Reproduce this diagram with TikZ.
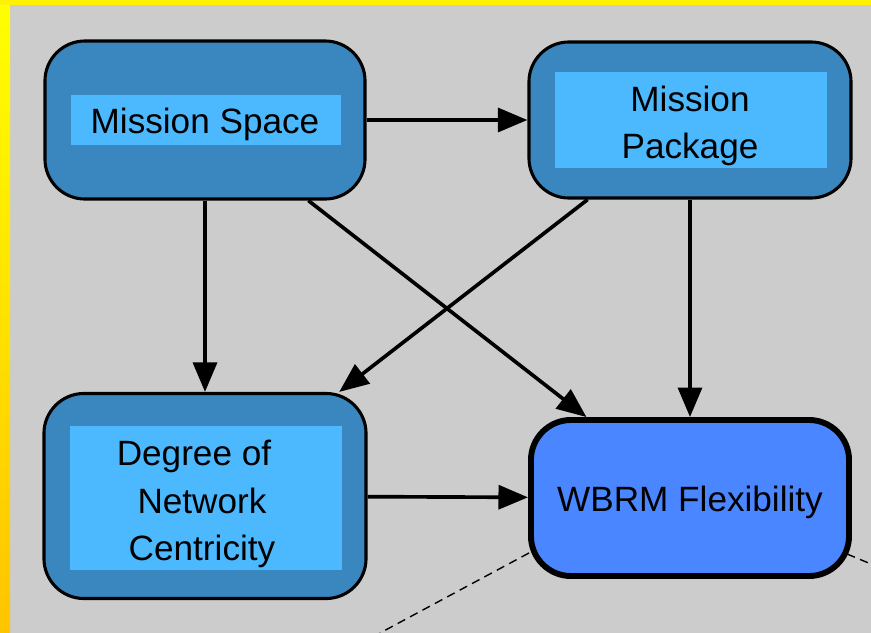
\documentclass[tikz,border=0pt]{standalone}
\usepackage{fontspec}
\setmainfont{Liberation Sans}
\usetikzlibrary{arrows.meta,calc}
\definecolor{bggray}{RGB}{204,204,204}
\definecolor{boxblue}{RGB}{58,135,192}
\definecolor{labelblue}{RGB}{76,185,255}
\definecolor{goalblue}{RGB}{74,134,255}
\definecolor{frameorange}{RGB}{255,196,0}

\begin{document}
\begin{tikzpicture}[x=0.025cm, y=-0.025cm,
  factor/.style={draw, line width=2.2pt, fill=boxblue, rounded corners=1cm, inner sep=0pt},
  namebox/.style={fill=labelblue, inner sep=0pt},
  nametext/.style={inner sep=0pt, align=center, font=\fontsize{25}{33.5}\selectfont},
  arr/.style={line width=2.6pt, -{Triangle[length=21pt, width=17pt]}},
  link/.style={line width=1pt, dash pattern=on 6pt off 4pt}]
  \useasboundingbox (0,0) rectangle (871,633);
  \fill[bggray] (0,0) rectangle (871,633);
  \shade[top color=yellow, bottom color=frameorange] (0,0) rectangle (10,633);
  \fill[yellow] (0,0) rectangle (871,5);
  % factor boxes
  \node[factor, minimum width=8cm, minimum height=3.95cm] (space) at (205,120) {};
  \node[namebox, minimum width=6.75cm, minimum height=1.225cm] (spacebox) at (206,120) {};
  \node[nametext] (spacetxt) at (205,124) {Mission Space};
  \node[factor, minimum width=8.05cm, minimum height=3.9cm] (package) at (690,120) {};
  \node[namebox, minimum width=6.775cm, minimum height=2.375cm] (packagebox) at (691,120) {};
  \node[nametext] (packagetxt) at (690,126) {Mission\\Package};
  \node[factor, minimum width=8.05cm, minimum height=5.125cm] (centric) at (205,496) {};
  \node[namebox, minimum width=6.775cm, minimum height=3.575cm] (centricbox) at (206,498) {};
  \node[nametext] (centrictxt) at (202,504) {Degree of\hspace*{0.4cm}\\Network\hspace*{0.15cm}\\Centricity};
  \node[factor, fill=goalblue, line width=4.2pt, minimum width=7.95cm, minimum height=3.9cm] (wbrm) at (690,498) {};
  \node[nametext] (wbrmtxt) at (690,502) {WBRM Flexibility};
  % influences
  \draw[arr] (space) -- (package);
  \draw[arr] (space) -- (centric);
  \draw[arr] (space) -- (wbrm);
  \draw[arr] (package) -- (centric);
  \draw[arr] (package) -- (wbrm);
  \draw[arr] (centric) -- (wbrm);
  \coordinate (leftend) at (380,633);
  \coordinate (rightend) at (871,564);
  \draw[link] ($(wbrm.south west)+(1,-26)$) -- (leftend);
  \draw[link] ($(wbrm.south east)+(-5,-25)$) -- (rightend);
\end{tikzpicture}
\end{document}
